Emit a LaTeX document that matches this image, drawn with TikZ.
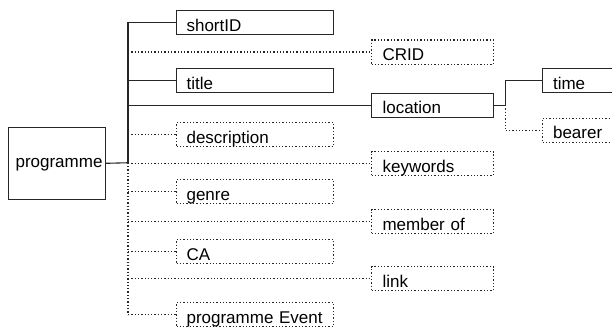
\documentclass[tikz,border=0pt]{standalone}
\usepackage{fontspec}
\setmainfont{Liberation Sans}
\usetikzlibrary{calc}
\begin{document}
\begin{tikzpicture}[x=1pt,y=-1pt,
  box/.style={draw=black!85, line width=1.1pt, inner ysep=0pt,
    text height=20.5pt, text depth=3.5pt, align=left, anchor=north west,
    font=\fontsize{17}{19}\selectfont},
  mand/.style={box, solid},
  opt/.style={box, dash pattern=on 1.3pt off 2pt},
  lcol/.style={text width=137pt, inner xsep=10pt},
  rcol/.style={text width=100pt, inner xsep=11pt},
  fcol/.style={text width=70pt, inner xsep=10.5pt},
  wire/.style={draw=black!85, line width=1.1pt},
  owire/.style={wire, dash pattern=on 1.3pt off 2pt}]
\useasboundingbox (0,0) rectangle (612,329);
\clip (0,0) rectangle (612,329);
\fill[white] (0,0) rectangle (612,329);

% root element
\node[box, text width=82.5pt, inner xsep=7.5pt, text height=40pt, text depth=31.5pt]
  (prog) at (7.5,127) {programme};

% first column of children
\node[mand, lcol] (shortid)   at (176,10)  {shortID};
\node[mand, lcol] (title)     at (176,68)  {title};
\node[opt,  lcol] (descr)     at (176,122) {description};
\node[opt,  lcol] (genre)     at (176,179) {genre};
\node[opt,  lcol] (ca)        at (176,239) {CA};
\node[opt,  lcol] (progevent) at (176,302) {programme Event};

% second column of children
\node[opt,  rcol] (crid)      at (371,39.5) {CRID};
\node[mand, rcol] (location)  at (371,92.5) {location};
\node[opt,  rcol] (keywords)  at (371,151)  {keywords};
\node[opt,  rcol] (memberof)  at (371,209)  {member of};
\node[opt,  rcol] (link)      at (371,266)  {link};

% children of location
\node[mand, fcol] (time)   at (542,68)  {time};
\node[opt,  fcol] (bearer) at (542,117.5) {bearer};

% main trunk
\coordinate (tk) at (128,162.75);
\draw[wire] (prog.east) -- (tk);
\draw[wire, line cap=rect] (tk |- shortid.west) -- (tk);
\draw[owire] (tk) -- (tk |- progevent.west);

\draw[wire]  (tk |- shortid.west)   -- (shortid.west);
\draw[owire] (tk |- crid.west)      -- (crid.west);
\draw[wire]  (tk |- title.west)     -- (title.west);
\draw[wire]  (tk |- location.west)  -- (location.west);
\draw[owire] (tk |- descr.west)     -- (descr.west);
\draw[owire] (tk |- keywords.west)  -- (keywords.west);
\draw[owire] (tk |- genre.west)     -- (genre.west);
\draw[owire] (tk |- memberof.west)  -- (memberof.west);
\draw[owire] (tk |- ca.west)        -- (ca.west);
\draw[owire] (tk |- link.west)      -- (link.west);
\draw[owire] (tk |- progevent.west) -- (progevent.west);

% location trunk
\coordinate (lt) at ($(location.east)+(11.5,0)$);
\draw[wire] (location.east) -- (lt);
\draw[wire, line cap=rect] (lt |- time.west) -- (lt);
\draw[owire] (lt) -- (lt |- bearer.west);
\draw[wire]  (lt |- time.west)   -- (time.west);
\draw[owire] (lt |- bearer.west) -- (bearer.west);
\end{tikzpicture}
\end{document}
